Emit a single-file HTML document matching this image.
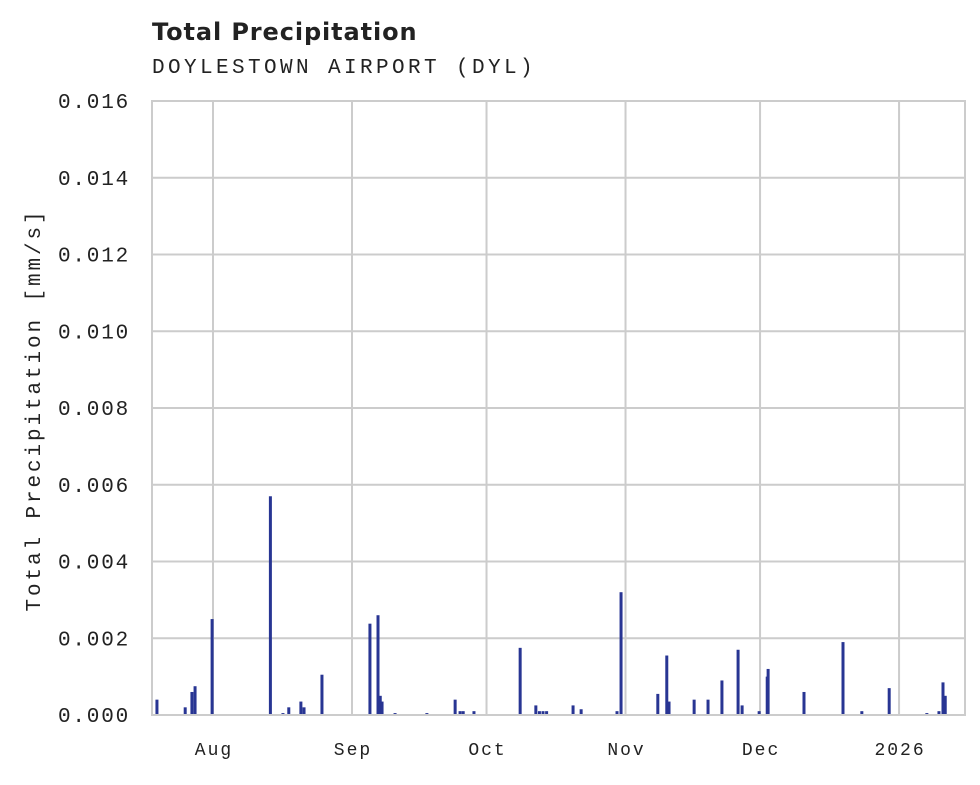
<!DOCTYPE html>
<html><head><meta charset="utf-8"><style>
body{margin:0;background:#fff;}
svg text{font-family:"Liberation Mono",monospace;fill:#222;}
</style></head><body>
<svg id="chart" width="980" height="780">
<text x="152" y="40" style="font-family:'DejaVu Sans',sans-serif;font-weight:bold;font-size:24px;letter-spacing:0.9px">Total Precipitation</text>
<text x="152" y="73" style="font-size:21px;letter-spacing:3.4px">DOYLESTOWN AIRPORT (DYL)</text>
<text transform="translate(40,410) rotate(-90)" text-anchor="middle" style="font-size:21px;letter-spacing:2.9px">Total Precipitation [mm/s]</text>
<g id="grid"></g><g id="bars"></g>
<rect x="152" y="101" width="813" height="614" fill="none" stroke="#ccc" stroke-width="2"/>
</svg>
<script>
const days=[-12.5,-6.2,-4.7,-4.0,-0.2,12.8,15.6,16.9,19.6,20.3,24.3,35.0,36.8,37.3,37.7,40.6,47.7,54.0,55.1,55.8,58.2,68.5,72.0,72.8,73.6,74.4,80.3,82.1,90.1,91.0,99.2,101.2,101.7,107.3,110.4,113.5,117.1,118.0,121.8,123.6,123.8,131.8,140.5,144.7,150.8,159.2,161.9,162.8,163.3];
const values=[0.0004,0.0002,0.0006,0.00075,0.0025,0.0057,0.00005,0.0002,0.00035,0.0002,0.00105,0.00238,0.0026,0.0005,0.00035,0.00005,0.00005,0.0004,0.0001,0.0001,0.0001,0.00175,0.00025,0.0001,0.0001,0.0001,0.00025,0.00015,0.0001,0.0032,0.00055,0.00155,0.00035,0.0004,0.0004,0.0009,0.0017,0.00025,0.0001,0.001,0.0012,0.0006,0.0019,0.0001,0.0007,0.00005,0.0001,0.00085,0.0005];
const yTicks=[0,0.002,0.004,0.006,0.008,0.010,0.012,0.014,0.016];
const xTickLabels=["Aug","Sep","Oct","Nov","Dec","2026"];
const xTickDays=[0,31,61,92,122,153];
const NS="http://www.w3.org/2000/svg";
const x=d=>213+d*4.484;
const y=v=>715-v/0.016*614;
const grid=document.getElementById('grid'),bars=document.getElementById('bars');
yTicks.forEach(t=>{
 const l=document.createElementNS(NS,'line');
 l.setAttribute('x1',152);l.setAttribute('x2',965);l.setAttribute('y1',y(t));l.setAttribute('y2',y(t));
 l.setAttribute('stroke','#ccc');l.setAttribute('stroke-width',2);
 
 
 grid.appendChild(l);
 const tx=document.createElementNS(NS,'text');
 tx.setAttribute('x',130);tx.setAttribute('y',y(t)+7);tx.setAttribute('text-anchor','end');tx.setAttribute('font-size','21');
 tx.setAttribute('letter-spacing','1.8');
 tx.textContent=t.toFixed(3);
 
 
 grid.appendChild(tx);
});
xTickDays.forEach((d,i)=>{
 const l=document.createElementNS(NS,'line');
 l.setAttribute('x1',x(d));l.setAttribute('x2',x(d));l.setAttribute('y1',101);l.setAttribute('y2',715);
 l.setAttribute('stroke','#ccc');l.setAttribute('stroke-width',2);
 
 
 grid.appendChild(l);
 const tx=document.createElementNS(NS,'text');
 tx.setAttribute('x',x(d)+1);tx.setAttribute('y',755);tx.setAttribute('text-anchor','middle');tx.setAttribute('font-size','18');
 tx.setAttribute('letter-spacing','2');
 tx.textContent=xTickLabels[i];
 
 
 grid.appendChild(tx);
});
days.forEach((d,i)=>{
 const r=document.createElementNS(NS,'rect');
 r.setAttribute('x',x(d)-1.5);r.setAttribute('width',3);
 r.setAttribute('y',y(values[i]));r.setAttribute('height',715-y(values[i]));
 r.setAttribute('fill','#283593');
 
 
 bars.appendChild(r);
});
</script>
</body></html>
